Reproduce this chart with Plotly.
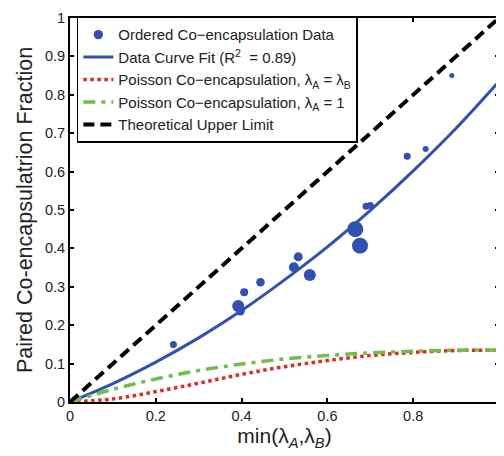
import plotly.graph_objects as go

# Data
data_x = [0.241, 0.392, 0.397, 0.406, 0.444, 0.522, 0.532, 0.559, 0.665, 0.676, 0.690, 0.700, 0.786, 0.829, 0.890]
data_y = [0.150, 0.250, 0.237, 0.286, 0.312, 0.351, 0.378, 0.331, 0.450, 0.407, 0.510, 0.512, 0.640, 0.659, 0.850]
data_size = [7, 12, 9, 8, 8.5, 10, 9, 12, 16, 16, 7, 7, 7, 6, 5]

grid_x = [0.0, 0.1, 0.2, 0.3, 0.4, 0.5, 0.6, 0.7, 0.8, 0.9, 1.0]
fit_y = [0.0, 0.048, 0.104, 0.167, 0.238, 0.318, 0.404, 0.499, 0.602, 0.713, 0.835]
poisson_equal_y = [0.0, 0.008, 0.027, 0.049, 0.072, 0.092, 0.108, 0.121, 0.129, 0.134, 0.135]
poisson_one_y = [0.0, 0.033, 0.060, 0.082, 0.099, 0.112, 0.121, 0.128, 0.132, 0.135, 0.135]
upper_x = [0.0, 1.0]
upper_y = [0.0, 1.0]

x_ticks = [0, 0.2, 0.4, 0.6, 0.8, 1]
x_tick_labels = ["0", "0.2", "0.4", "0.6", "0.8", "1"]
y_ticks = [0, 0.1, 0.2, 0.3, 0.4, 0.5, 0.6, 0.7, 0.8, 0.9, 1]
y_tick_labels = ["0", "0.1", "0.2", "0.3", "0.4", "0.5", "0.6", "0.7", "0.8", "0.9", "1"]

BLUE = "#3050b4"
FONT = "Liberation Sans, Arial"
fig = go.Figure()

fig.add_trace(go.Scatter(
    x=data_x, y=data_y, mode="markers",
    name="Ordered Co−encapsulation Data",
    marker=dict(color=BLUE, size=data_size, opacity=1, line=dict(width=0)),
))
fig.add_trace(go.Scatter(
    x=grid_x, y=fit_y, mode="lines", line_shape="spline",
    name="Data Curve Fit (R<sup>2</sup>  = 0.89)",
    line=dict(color=BLUE, width=3),
))
fig.add_trace(go.Scatter(
    x=grid_x, y=poisson_equal_y, mode="lines", line_shape="spline",
    name="Poisson Co−encapsulation, λ<sub>A</sub> = λ<sub>B</sub>",
    line=dict(color="#ee2424", width=3.5, dash="dot"),
))
fig.add_trace(go.Scatter(
    x=grid_x, y=poisson_one_y, mode="lines", line_shape="spline",
    name="Poisson Co−encapsulation, λ<sub>A</sub> = 1",
    line=dict(color="#6cc04a", width=3.5, dash="12px,6px,4px,6px"),
))
fig.add_trace(go.Scatter(
    x=upper_x, y=upper_y, mode="lines",
    name="Theoretical Upper Limit",
    line=dict(color="black", width=4, dash="11px,6px"),
))

axis_common = dict(
    showline=True, linecolor="black", linewidth=2, mirror="ticks",
    ticks="inside", ticklen=4, tickwidth=2, tickcolor="black",
    showgrid=False, zeroline=False, automargin=False,
    tickfont=dict(family=FONT, size=14.5, color="#222"),
)

# the page body adds an 8px offset, so the figure is sized/margined to compensate
fig.update_layout(
    width=496, height=448,
    margin=dict(l=62, r=5, t=10, b=54),
    paper_bgcolor="white", plot_bgcolor="white",
    showlegend=True,
    legend=dict(
        x=0.016, y=1.003, xanchor="left", yanchor="top",
        bgcolor="white", bordercolor="black", borderwidth=1.5,
        font=dict(family=FONT, size=15, color="#222"),
        itemwidth=30, tracegroupgap=0,
    ),
    xaxis=dict(
        range=[0, 1], tickvals=x_ticks, ticktext=x_tick_labels,
        title=dict(text="min(λ<sub><i>A</i></sub>,λ<sub><i>B</i></sub>)",
                   font=dict(family=FONT, size=21, color="#222"),
                   standoff=1),
        **axis_common,
    ),
    yaxis=dict(
        range=[0, 1], tickvals=y_ticks, ticktext=y_tick_labels,
        title=dict(text="Paired Co-encapsulatrion Fraction",
                   font=dict(family=FONT, size=21.5, color="#222"),
                   standoff=6),
        **axis_common,
    ),
)

fig.write_html("out.html")
